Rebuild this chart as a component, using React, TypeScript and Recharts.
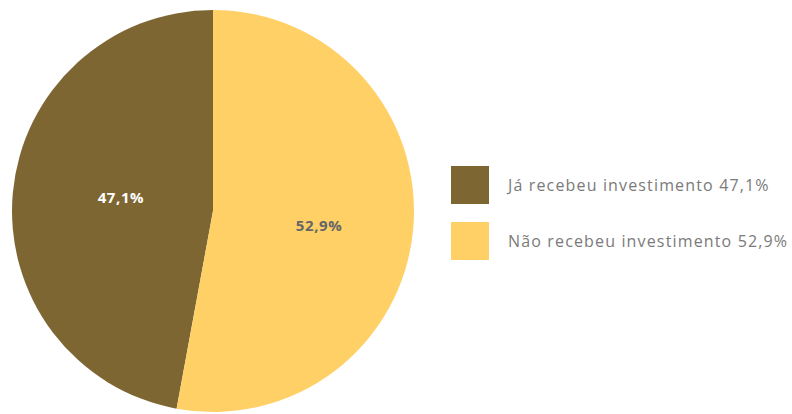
import { Cell, Legend, Pie, PieChart } from "recharts";

const categories = ["Já recebeu investimento", "Não recebeu investimento"];
const values = [47.1, 52.9];
const colors = ["#7E6633", "#FFD066"];
const labelColors = ["#FFFFFF", "#666666"];

const fmt = (v: number) => v.toFixed(1).replace(".", ",") + "%";

const data = categories.map((name, i) => ({
  name,
  value: values[i],
  fill: colors[i],
}));

// first slice ends at 12 o'clock, the second one starts there going clockwise
const total = values.reduce((a, b) => a + b, 0);
const startAngle = 90 + (360 * values[0]) / total;

const RADIAN = Math.PI / 180;

function renderLabel(props: any) {
  const { cx, cy, midAngle, outerRadius, value, index } = props;
  const r = outerRadius * (index === 0 ? 0.46 : 0.53);
  const x = cx + r * Math.cos(-midAngle * RADIAN);
  const y = cy + r * Math.sin(-midAngle * RADIAN) + (index === 0 ? -6 : 4);
  return (
    <text
      x={x}
      y={y}
      fill={labelColors[index]}
      textAnchor="middle"
      dominantBaseline="central"
      fontSize={15}
      fontWeight={700}
      letterSpacing={0.6}
      fontFamily="'Open Sans', sans-serif"
    >
      {fmt(value)}
    </text>
  );
}

function renderLegend() {
  return (
    <div style={{ fontFamily: "'Open Sans', sans-serif" }}>
      {data.map((d) => (
        <div
          key={d.name}
          style={{ display: "flex", alignItems: "center", height: 38, marginBottom: 18 }}
        >
          <div style={{ width: 38, height: 38, background: d.fill, marginRight: 19 }} />
          <span style={{ fontSize: 16, color: "#7a7a7a", letterSpacing: 1.15, whiteSpace: "nowrap" }}>
            {d.name} {fmt(d.value)}
          </span>
        </div>
      ))}
    </div>
  );
}

export default function App() {
  return (
    <div style={{ position: "absolute", left: 0, top: 0, width: 792, height: 414, background: "#fff" }}>
      <PieChart width={792} height={414} margin={{ top: 0, right: 0, bottom: 0, left: 0 }}>
        <Pie
          data={data}
          dataKey="value"
          nameKey="name"
          cx={213}
          cy={211}
          outerRadius={201}
          startAngle={startAngle}
          endAngle={startAngle - 360}
          stroke="none"
          label={renderLabel}
          labelLine={false}
          isAnimationActive={false}
        >
          {data.map((d) => (
            <Cell key={d.name} fill={d.fill} />
          ))}
        </Pie>
        <Legend
          content={renderLegend}
          wrapperStyle={{ position: "absolute", left: 451, top: 166, width: 340 }}
        />
      </PieChart>
    </div>
  );
}
